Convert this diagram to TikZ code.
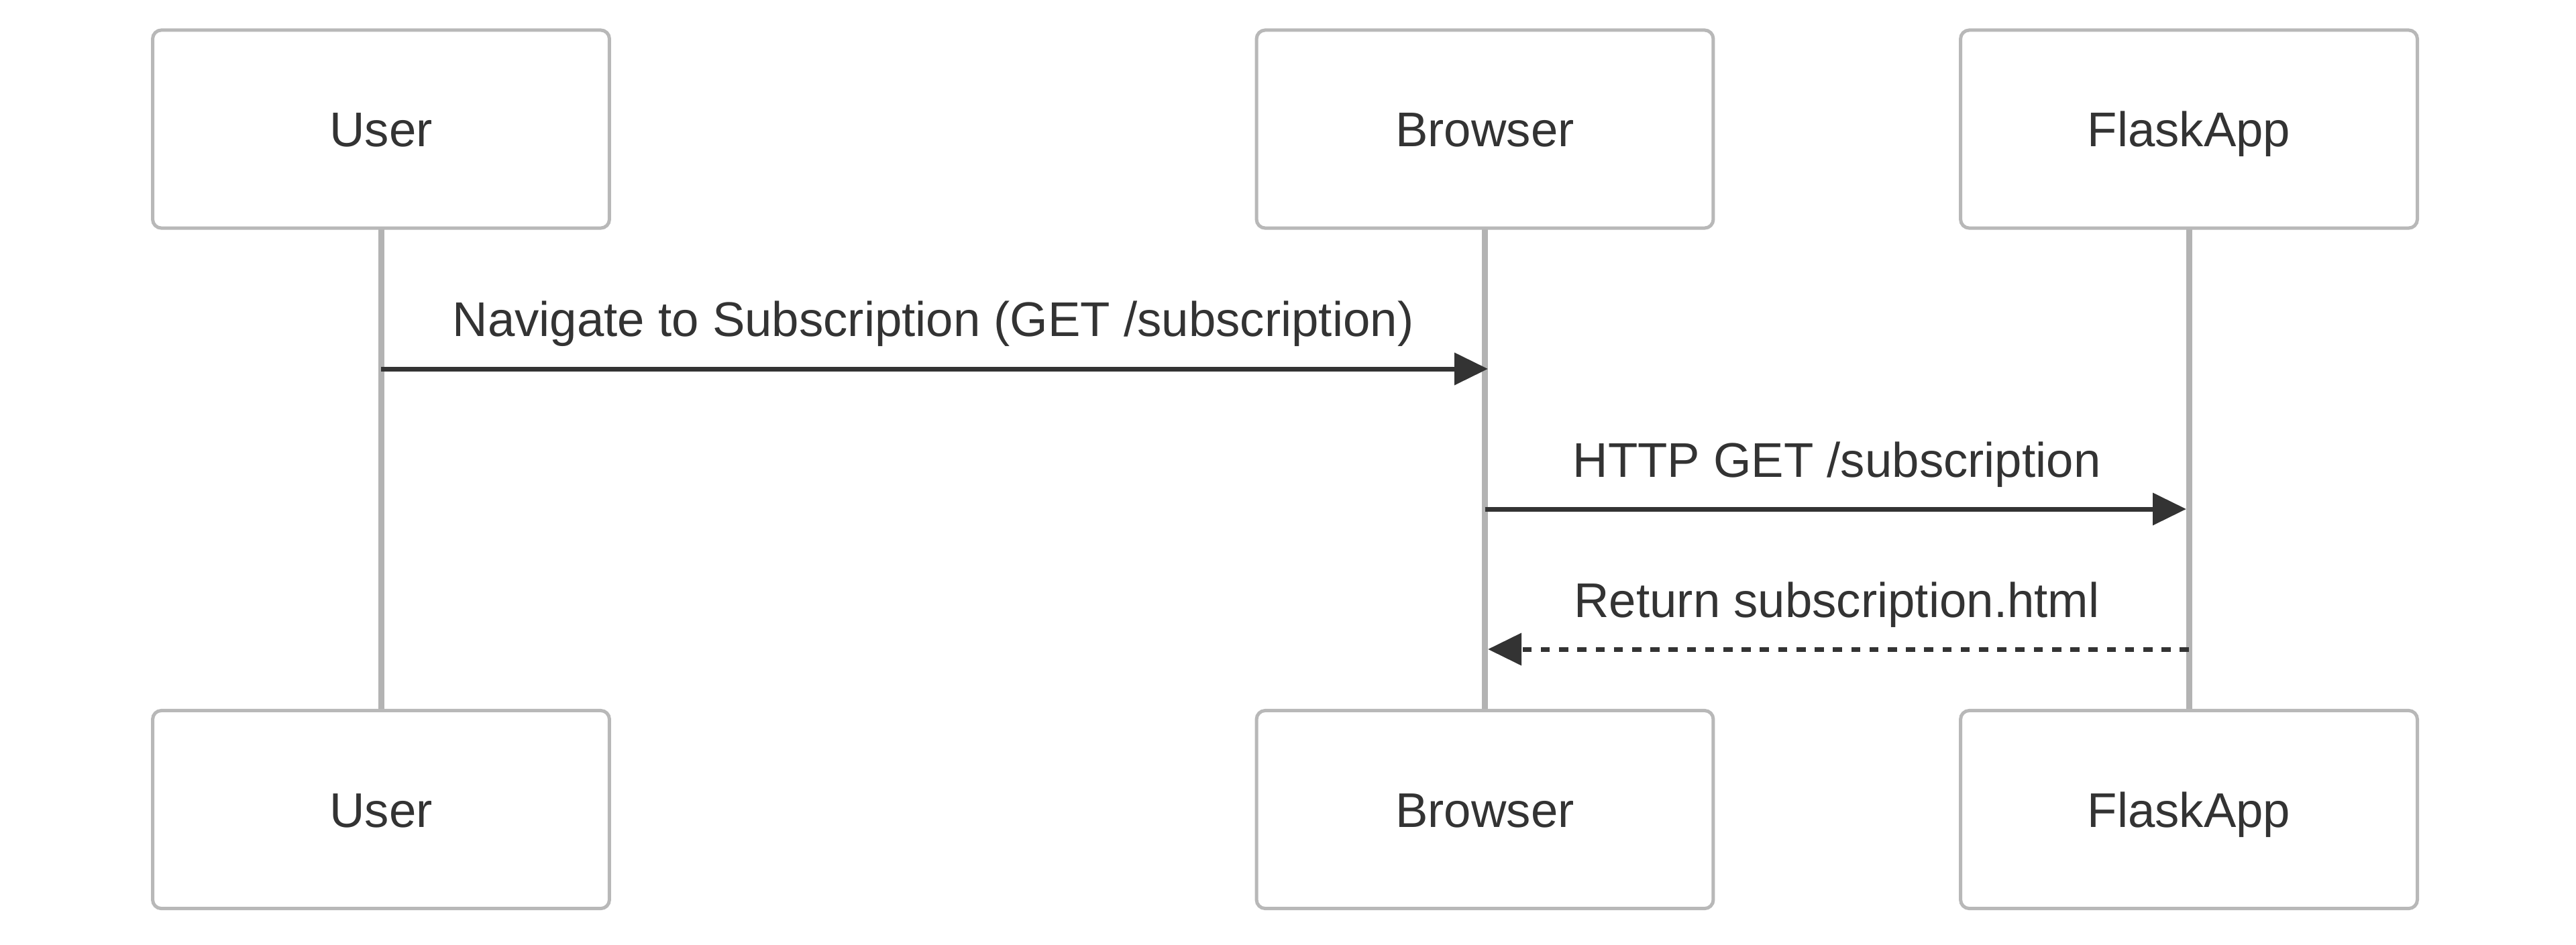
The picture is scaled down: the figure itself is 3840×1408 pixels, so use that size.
\documentclass[tikz,border=0pt]{standalone}
\usepackage{fontspec}
\setmainfont{Liberation Sans}
\usetikzlibrary{arrows.meta}
\definecolor{txt}{HTML}{333333}
\definecolor{boxborder}{HTML}{B8B8B8}
\definecolor{lifecol}{HTML}{B3B3B3}
\tikzset{
  actor/.style={draw=boxborder, line width=0.05cm, fill=white, rounded corners=0.13cm,
    minimum width=6.805cm, minimum height=2.95cm, inner sep=0pt,
    text height=0.52cm, text depth=0cm, text=txt, font=\fontsize{20.65pt}{25pt}\selectfont},
  lifeline/.style={draw=lifecol, line width=0.09cm},
  msg/.style={draw=txt, line width=0.07cm, -{Triangle[length=0.5cm,width=0.47cm]}, txt},
  reply/.style={msg, dash pattern=on 0.136cm off 0.136cm},
  msglabel/.style={anchor=base, inner sep=0pt, text=txt, font=\fontsize{20.65pt}{25pt}\selectfont}
}
\begin{document}
\begin{tikzpicture}[x=0.01cm,y=-0.01cm]
\useasboundingbox[fill=white] (0,0) rectangle (3840,1408);
% lifelines
\coordinate (uT) at (568,340);
\coordinate (uB) at (568,1059.5);
\coordinate (bT) at (2213.5,340);
\coordinate (bB) at (2213.5,1059.5);
\coordinate (fT) at (3263,340);
\coordinate (fB) at (3263,1059.5);
\draw[lifeline] (uT) -- (uB);
\draw[lifeline] (bT) -- (bB);
\draw[lifeline] (fT) -- (fB);
% actors
\node[actor] (userTop) at (568,192.5) {User};
\node[actor] (browserTop) at (2213.5,192.5) {Browser};
\node[actor] (flaskTop) at (3263,192.5) {FlaskApp};
\node[actor] (userBot) at (568,1207) {User};
\node[actor] (browserBot) at (2213.5,1207) {Browser};
\node[actor] (flaskBot) at (3263,1207) {FlaskApp};
% message endpoints
\coordinate (m1s) at (568,550);
\coordinate (m1e) at (2218,550);
\coordinate (m2s) at (2213.5,759);
\coordinate (m2e) at (3259,759);
\coordinate (m3s) at (3263,968);
\coordinate (m3e) at (2218,968);
\draw[msg] (m1s) -- (m1e);
\draw[msg] (m2s) -- (m2e);
\draw[reply] (m3s) -- (m3e);
% labels
\node[msglabel] (l1) at (1391,501) {Navigate to Subscription (GET /subscription)};
\node[msglabel] (l2) at (2738,711) {HTTP GET /subscription};
\node[msglabel] (l3) at (2738,920) {Return subscription.html};
\end{tikzpicture}
\end{document}
